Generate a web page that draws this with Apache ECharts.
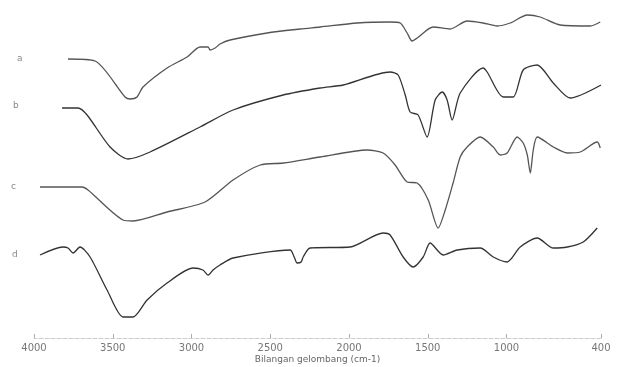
<!DOCTYPE html>
<html><head><meta charset="utf-8">
<script src="https://cdn.jsdelivr.net/npm/echarts@6/dist/echarts.min.js"></script>
<style>html,body{margin:0;padding:0;background:#fff}#c{width:625px;height:367px}</style>
</head><body><div id="c"></div>
<script>
// wavenumber (cm-1), offset transmittance (arbitrary units)
const seriesA = [[3784,279],[3613,277],[3422,241],[3390,239],[3346,241],[3308,251],[3155,270],[3028,281],[2946,291],[2895,291],[2882,288],[2850,290],[2819,294],[2755,298],[2520,305],[2310,309],[2183,311],[1948,315],[1739,316],[1675,315],[1631,305],[1599,297],[1567,300],[1466,311],[1358,309],[1250,317],[1148,315],[1059,312],[976,315],[868,323],[786,321],[659,313],[468,312],[405,316]];
const seriesB = [[3822,230],[3721,230],[3663,223],[3517,191],[3403,179],[3263,186],[2946,211],[2736,228],[2418,243],[2183,250],[2037,253],[1739,266],[1688,263],[1643,243],[1612,226],[1561,223],[1504,201],[1453,238],[1408,246],[1377,238],[1345,218],[1294,245],[1148,270],[1123,266],[1021,241],[957,241],[894,268],[805,273],[703,255],[595,240],[400,253]];
const seriesC = [[3962,151],[3695,151],[3657,148],[3435,118],[3371,117],[3155,126],[2914,136],[2736,158],[2564,173],[2418,175],[2183,181],[1885,188],[1783,185],[1707,173],[1631,156],[1567,155],[1497,138],[1434,110],[1389,128],[1339,155],[1294,181],[1250,191],[1167,201],[1084,191],[1040,183],[996,185],[932,201],[894,195],[868,183],[849,165],[830,188],[805,201],[703,191],[614,185],[532,186],[424,196],[405,190]];
const seriesD = [[3962,83],[3816,91],[3784,90],[3752,85],[3708,91],[3644,81],[3536,48],[3435,21],[3371,21],[3282,38],[3155,55],[2990,70],[2927,68],[2895,63],[2863,68],[2819,73],[2736,80],[2374,88],[2348,81],[2329,75],[2304,76],[2291,81],[2247,90],[1993,91],[1783,105],[1739,103],[1656,81],[1593,71],[1529,81],[1485,95],[1402,83],[1313,88],[1167,90],[1084,81],[996,76],[913,91],[805,100],[703,90],[614,91],[513,96],[424,110]];
const tickValues = [4000,3500,3000,2500,2000,1500,1000,400];
const curveNames = ['a','b','c','d'];

const chart = echarts.init(document.getElementById('c'));
const colors = ['#555','#333','#555','#333'];
const datas = [seriesA, seriesB, seriesC, seriesD];
chart.setOption({
  animation:false,
  grid:{left:34,right:24,top:0,bottom:29,containLabel:false,outerBoundsMode:'none'},
  xAxis:{type:'value',min:400,max:4000,inverse:true,
    name:'Bilangan gelombang (cm-1)',nameLocation:'middle',nameGap:17,nameMoveOverlap:false,
    nameTextStyle:{color:'#666',fontSize:9,fontFamily:'DejaVu Sans'},
    axisLine:{lineStyle:{color:'#ccc',type:'dashed',width:1}},
    axisTick:{inside:true,length:4,lineStyle:{color:'#aaa'},customValues:tickValues},
    axisLabel:{customValues:tickValues,color:'#777',fontSize:10,margin:5,fontFamily:'DejaVu Sans',
      formatter:v=>String(v)},
    splitLine:{show:false}},
  yAxis:{type:'value',min:0,max:338,show:false},
  graphic:[
    {type:'text',left:17,top:54,style:{text:curveNames[0],fill:'#888',font:'9px DejaVu Sans'}},
    {type:'text',left:13,top:101,style:{text:curveNames[1],fill:'#888',font:'9px DejaVu Sans'}},
    {type:'text',left:11,top:182,style:{text:curveNames[2],fill:'#888',font:'9px DejaVu Sans'}},
    {type:'text',left:12,top:250,style:{text:curveNames[3],fill:'#888',font:'9px DejaVu Sans'}}
  ],
  series: datas.map((d,i)=>({type:'line',name:curveNames[i],data:d,showSymbol:false,smooth:0.25,
    lineStyle:{color:colors[i],width:1.3}}))
});
</script></body></html>
